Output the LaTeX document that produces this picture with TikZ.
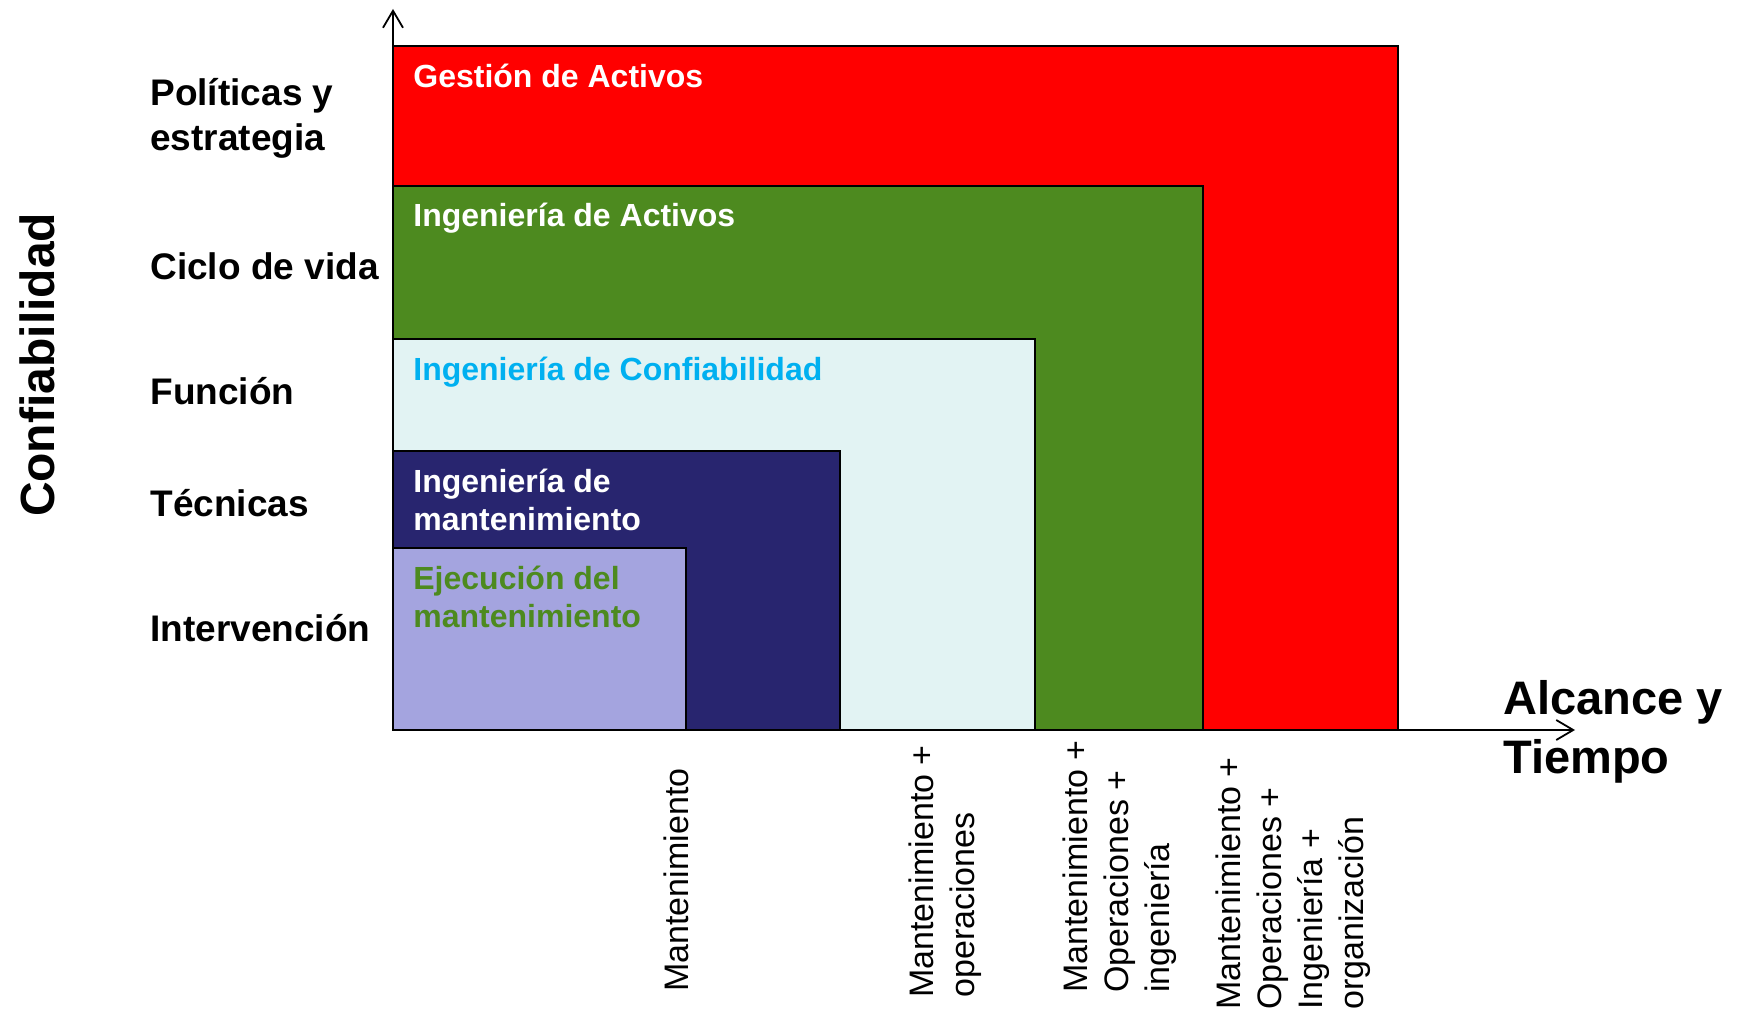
\documentclass[tikz,border=0pt]{standalone}
\usepackage{fontspec}
\setmainfont{Liberation Sans}
\usetikzlibrary{arrows.meta}
\definecolor{cred}{HTML}{FF0000}
\definecolor{cgreen}{HTML}{4D8A1F}
\definecolor{ccyan}{HTML}{E2F3F3}
\definecolor{cnavy}{HTML}{28256F}
\definecolor{clav}{HTML}{A4A4DF}
\definecolor{ctext}{HTML}{00B0F0}
\begin{document}
\begin{tikzpicture}[x=0.5pt,y=-0.5pt,
  box/.style={draw=black,line width=1pt},
  axis/.style={draw=black,line width=0.9pt,-{Straight Barb[length=8.5pt,width=10pt,line width=0.9pt]}},
  lvl/.style={anchor=base west,inner sep=0pt,font=\fontsize{18.5}{22.5}\selectfont\bfseries},
  blab/.style={anchor=base west,inner sep=0pt,font=\fontsize{16}{19}\selectfont\bfseries},
  xlab/.style={anchor=base west,inner sep=0pt,rotate=90,font=\fontsize{17}{20.5}\selectfont},
  big/.style={anchor=base west,inner sep=0pt,font=\fontsize{23.5}{29.5}\selectfont\bfseries},
]
\useasboundingbox (0,0) rectangle (1737,1015);
% nested areas
\fill[cred] (393,46.5) rectangle (1398,730);
\draw[box] (393,46.5) rectangle (1398,730);
\fill[cgreen] (393,186) rectangle (1203,730);
\draw[box] (393,186) rectangle (1203,730);
\fill[ccyan] (393,339) rectangle (1035,730);
\draw[box] (393,339) rectangle (1035,730);
\fill[cnavy] (393,451) rectangle (840,730);
\draw[box] (393,451) rectangle (840,730);
\fill[clav] (393,548) rectangle (686,730);
\draw[box] (393,548) rectangle (686,730);
% axes
\coordinate (O) at (393,730);
\coordinate (ytip) at (393,9);
\coordinate (xtip) at (1575,730);
\draw[axis] (O) -- (ytip);
\draw[axis] (O) -- (xtip);
% area labels
\node[blab,white] (ga) at (413,88) {Gestión de Activos};
\node[blab,white] (ia) at (413,227) {Ingeniería de Activos};
\node[blab,ctext] (ic) at (413,381) {Ingeniería de Confiabilidad};
\node[blab,white] (im1) at (413,493) {Ingeniería de};
\node[blab,white] (im2) at (413,531) {mantenimiento};
\node[blab,cgreen] (em1) at (413,590) {Ejecución del};
\node[blab,cgreen] (em2) at (413,628) {mantenimiento};
% level labels
\node[lvl] (pe1) at (150,106) {Políticas y};
\node[lvl] (pe2) at (150,151) {estrategia};
\node[lvl] (cv) at (150,280) {Ciclo de vida};
\node[lvl] (fu) at (150,405) {Función};
\node[lvl] (te) at (150,517) {Técnicas};
\node[lvl] (in) at (150,642) {Intervención};
% axis titles
\node[rotate=90,inner sep=0pt,font=\fontsize{24}{28}\selectfont\bfseries] (conf) at (37,365) {Confiabilidad};
\node[big] (al1) at (1503,715) {Alcance y};
\node[big] (al2) at (1503,774) {Tiempo};
% scope labels
\node[xlab] (m1) at (688,992) {Mantenimiento};
\node[xlab] (m2a) at (933,998) {Mantenimiento +};
\node[xlab] (m2b) at (974,998) {operaciones};
\node[xlab] (m3a) at (1087,993) {Mantenimiento +};
\node[xlab] (m3b) at (1128,993) {Operaciones +};
\node[xlab] (m3c) at (1169,993) {ingeniería};
\node[xlab] (m4a) at (1240,1010) {Mantenimiento +};
\node[xlab] (m4b) at (1281,1010) {Operaciones +};
\node[xlab] (m4c) at (1322,1010) {Ingeniería +};
\node[xlab] (m4d) at (1363,1010) {organización};
\end{tikzpicture}
\end{document}
